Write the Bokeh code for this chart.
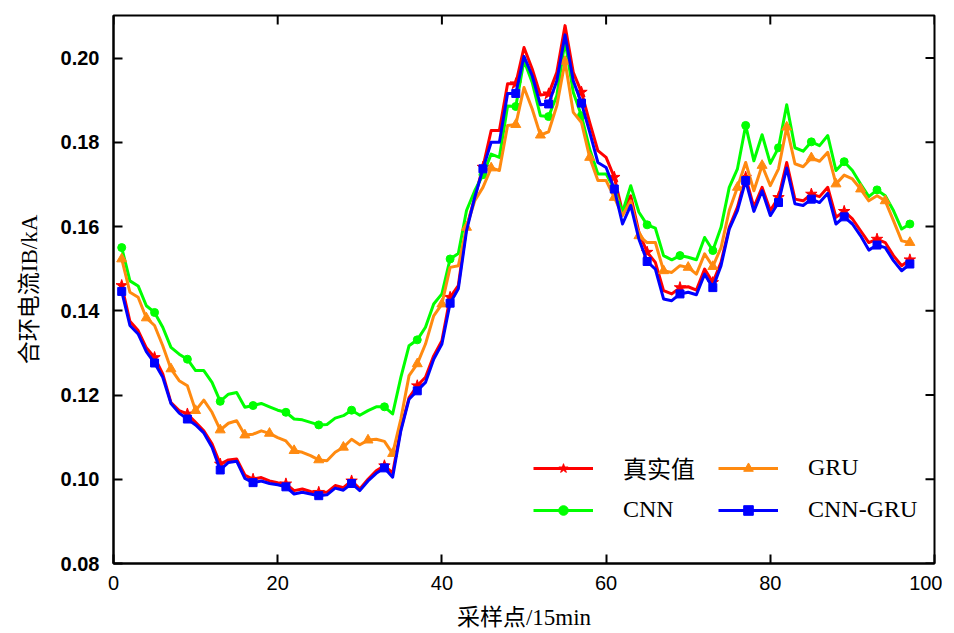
import math
from bokeh.plotting import figure
from bokeh.models import Range1d, FixedTicker, PrintfTickFormatter, Legend, LegendItem
from bokeh.embed import file_html
from bokeh.resources import INLINE

x = list(range(1, 98))

real = [0.1460, 0.1375, 0.1353, 0.1312, 0.1289, 0.1250, 0.1182, 0.1163, 0.1155, 0.1135,
        0.1115, 0.1084, 0.1036, 0.1046, 0.1048, 0.1010, 0.1000, 0.1004, 0.0996, 0.0992,
        0.0989, 0.0973, 0.0977, 0.0971, 0.0969, 0.0969, 0.0985, 0.0980, 0.0996, 0.0977,
        0.1000, 0.1020, 0.1032, 0.1015, 0.1119, 0.1194, 0.1222, 0.1242, 0.1293, 0.1329,
        0.1432, 0.1460, 0.1598, 0.1669, 0.1741, 0.1828, 0.1828, 0.1939, 0.1939, 0.2025,
        0.1974, 0.1912, 0.1915, 0.1966, 0.2077, 0.1966, 0.1919, 0.1847, 0.1780, 0.1764,
        0.1717, 0.1634, 0.1673, 0.1586, 0.1539, 0.1515, 0.1448, 0.1440, 0.1455, 0.1457,
        0.1449, 0.1499, 0.1467, 0.1515, 0.1598, 0.1646, 0.1717, 0.1646, 0.1693, 0.1638,
        0.1669, 0.1752, 0.1665, 0.1661, 0.1677, 0.1671, 0.1693, 0.1622, 0.1636, 0.1618,
        0.1590, 0.1562, 0.1570, 0.1562, 0.1531, 0.1507, 0.1521]

cnn = [0.1550, 0.1471, 0.1459, 0.1412, 0.1396, 0.1361, 0.1313, 0.1297, 0.1285, 0.1258,
       0.1258, 0.1230, 0.1185, 0.1202, 0.1206, 0.1171, 0.1175, 0.1180, 0.1172, 0.1164,
       0.1159, 0.1143, 0.1141, 0.1135, 0.1129, 0.1130, 0.1145, 0.1151, 0.1164, 0.1152,
       0.1163, 0.1172, 0.1172, 0.1155, 0.1242, 0.1317, 0.1331, 0.1361, 0.1416, 0.1440,
       0.1523, 0.1536, 0.1638, 0.1685, 0.1723, 0.1772, 0.1764, 0.1886, 0.1885, 0.1994,
       0.1942, 0.1863, 0.1861, 0.1911, 0.2041, 0.1919, 0.1863, 0.1784, 0.1725, 0.1725,
       0.1689, 0.1634, 0.1697, 0.1634, 0.1604, 0.1596, 0.1531, 0.1521, 0.1531, 0.1527,
       0.1521, 0.1574, 0.1543, 0.1598, 0.1693, 0.1737, 0.1840, 0.1756, 0.1818, 0.1750,
       0.1787, 0.1889, 0.1787, 0.1779, 0.1801, 0.1792, 0.1816, 0.1733, 0.1754, 0.1733,
       0.1701, 0.1671, 0.1687, 0.1673, 0.1638, 0.1594, 0.1606]

gru = [0.1523, 0.1444, 0.1432, 0.1383, 0.1365, 0.1317, 0.1262, 0.1234, 0.1222, 0.1163,
       0.1188, 0.1159, 0.1117, 0.1133, 0.1139, 0.1105, 0.1107, 0.1115, 0.1109, 0.1099,
       0.1091, 0.1068, 0.1064, 0.1056, 0.1046, 0.1044, 0.1064, 0.1076, 0.1095, 0.1082,
       0.1093, 0.1095, 0.1090, 0.1061, 0.1143, 0.1246, 0.1274, 0.1321, 0.1388, 0.1416,
       0.1503, 0.1507, 0.1598, 0.1661, 0.1693, 0.1739, 0.1733, 0.1840, 0.1842, 0.1930,
       0.1879, 0.1817, 0.1825, 0.1887, 0.1992, 0.1871, 0.1847, 0.1764, 0.1709, 0.1709,
       0.1669, 0.1626, 0.1661, 0.1578, 0.1562, 0.1562, 0.1495, 0.1491, 0.1507, 0.1503,
       0.1487, 0.1535, 0.1505, 0.1550, 0.1638, 0.1693, 0.1752, 0.1685, 0.1745, 0.1697,
       0.1737, 0.1836, 0.1749, 0.1742, 0.1763, 0.1755, 0.1776, 0.1701, 0.1722, 0.1713,
       0.1689, 0.1661, 0.1673, 0.1661, 0.1614, 0.1566, 0.1562]

cnn_gru = [0.1446, 0.1365, 0.1345, 0.1303, 0.1276, 0.1242, 0.1180, 0.1157, 0.1143, 0.1129,
           0.1110, 0.1076, 0.1022, 0.1040, 0.1043, 0.1002, 0.0992, 0.0996, 0.0990, 0.0987,
           0.0982, 0.0965, 0.0969, 0.0965, 0.0961, 0.0963, 0.0979, 0.0974, 0.0990, 0.0973,
           0.0996, 0.1014, 0.1027, 0.1005, 0.1115, 0.1190, 0.1210, 0.1230, 0.1285, 0.1321,
           0.1418, 0.1452, 0.1590, 0.1669, 0.1737, 0.1800, 0.1800, 0.1916, 0.1916, 0.2004,
           0.1958, 0.1889, 0.1891, 0.1946, 0.2055, 0.1946, 0.1893, 0.1824, 0.1752, 0.1740,
           0.1689, 0.1606, 0.1650, 0.1570, 0.1517, 0.1499, 0.1428, 0.1424, 0.1440, 0.1444,
           0.1438, 0.1487, 0.1455, 0.1507, 0.1594, 0.1638, 0.1709, 0.1636, 0.1685, 0.1626,
           0.1657, 0.1739, 0.1654, 0.1650, 0.1665, 0.1657, 0.1679, 0.1606, 0.1623, 0.1606,
           0.1578, 0.1544, 0.1556, 0.1550, 0.1519, 0.1495, 0.1511]

labels = ["真实值", "CNN", "GRU", "CNN-GRU"]
x_ticks = [0, 20, 40, 60, 80, 100]
y_ticks = [0.08, 0.10, 0.12, 0.14, 0.16, 0.18, 0.20]
x_lo, x_hi = 0, 100
y_lo, y_hi = 0.08, 0.2101

CJK = "Liberation Serif, Noto Sans CJK SC"

p = figure(frame_width=821, frame_height=548, output_backend="svg", toolbar_location=None,
           x_range=Range1d(x_lo, x_hi), y_range=Range1d(y_lo, y_hi),
           min_border_left=113, min_border_top=15, min_border_right=8, min_border_bottom=60,
           background_fill_color="white", border_fill_color="white")
p.xgrid.visible = False
p.ygrid.visible = False
p.outline_line_color = "black"
p.outline_line_width = 2

xa = p.xaxis[0]
ya = p.yaxis[0]
xa.ticker = FixedTicker(ticks=x_ticks)
ya.ticker = FixedTicker(ticks=y_ticks)
ya.formatter = PrintfTickFormatter(format="%.2f")
for ax in (xa, ya):
    ax.major_tick_in = 9
    ax.major_tick_out = 0
    ax.minor_tick_in = 0
    ax.minor_tick_out = 0
    ax.axis_line_width = 2
    ax.major_tick_line_width = 2
    ax.axis_line_color = "black"
    ax.major_label_text_color = "black"
    ax.axis_label_text_color = "black"
    ax.axis_label_text_font = CJK
    ax.axis_label_text_font_style = "normal"
    ax.axis_label_text_font_size = "23px"

xa.major_label_text_font = "Liberation Sans"
xa.major_label_text_font_size = "20px"
xa.major_label_standoff = 12
xa.axis_label = "采样点/15min"
xa.axis_label_standoff = 12

ya.major_label_text_font = "Liberation Sans"
ya.major_label_text_font_style = "bold"
ya.major_label_text_font_size = "20px"
ya.major_label_standoff = 14
ya.axis_label = "合环电流IB/kA"
ya.axis_label_standoff = 16

# mirrored tick marks on the top and right edges (no labels)
p.ray(x=x_ticks, y=[y_hi] * len(x_ticks), length=9, length_units="screen",
      angle=-math.pi / 2, line_color="black", line_width=2)
p.ray(x=[x_hi] * len(y_ticks), y=y_ticks, length=9, length_units="screen",
      angle=math.pi, line_color="black", line_width=2)

series = [
    (real, "#FF0000", "star", 4, 12),
    (cnn, "#00FF00", "circle", 4, 8),
    (gru, "#FF8A10", "triangle", 3, 10),
    (cnn_gru, "#0000FF", "square", 4, 8),
]
items = []
for (vals, col, mk, step, sz), lab in zip(series, labels):
    lr = p.line(x, vals, line_color=col, line_width=3, line_join="round")
    mr = p.scatter(x[::step], vals[::step], marker=mk, size=sz, fill_color=col, line_color=col)
    items.append(LegendItem(label=lab, renderers=[lr, mr]))

legend = Legend(items=items, ncols=2, location=(420, 40))
legend.padding = 0
legend.margin = 0
legend.spacing = 11
legend.glyph_width = 60
legend.glyph_height = 24
legend.label_standoff = 30
legend.label_width = 84
legend.label_height = 24
legend.border_line_color = None
legend.background_fill_alpha = 0
legend.label_text_font = CJK
legend.label_text_font_size = "24px"
legend.label_text_color = "black"
p.add_layout(legend)

open("out.html", "w").write(file_html(p, INLINE))
